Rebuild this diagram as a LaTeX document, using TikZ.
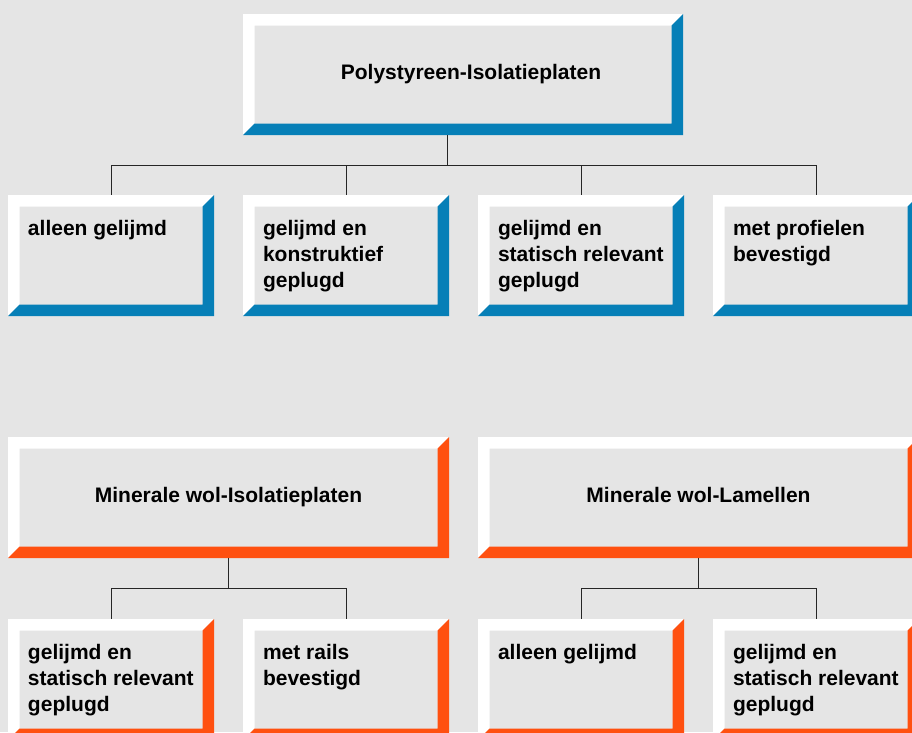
\documentclass[tikz,border=0pt]{standalone}
\usepackage{fontspec}
\setmainfont{Liberation Sans}
\usetikzlibrary{calc}

\definecolor{panelgray}{RGB}{229,229,229}
\definecolor{polyblue}{RGB}{6,127,183}
\definecolor{woolred}{RGB}{255,80,16}

% white top/left edge, coloured bottom/right edge
\newcommand{\bevelframe}[1]{%
  \fill[white] (path picture bounding box.south west) -- (path picture bounding box.north west)
    -- (path picture bounding box.north east)
    -- ([shift={(-11.5pt,-11.5pt)}]path picture bounding box.north east)
    -- ([shift={(11.5pt,-11.5pt)}]path picture bounding box.north west)
    -- ([shift={(11.5pt,11.5pt)}]path picture bounding box.south west) -- cycle;
  \fill[#1] (path picture bounding box.south west) -- (path picture bounding box.south east)
    -- (path picture bounding box.north east)
    -- ([shift={(-11.5pt,-11.5pt)}]path picture bounding box.north east)
    -- ([shift={(-11.5pt,11.5pt)}]path picture bounding box.south east)
    -- ([shift={(11.5pt,11.5pt)}]path picture bounding box.south west) -- cycle;}
\newcommand{\platetext}[1]{\parbox[c][121pt][t]{206pt}{\leftskip=20pt\baselineskip=26pt\rule{0pt}{40pt}#1}}

\tikzset{
  plate/.style={rectangle, fill=panelgray, inner sep=0pt, minimum height=121pt,
    path picture={\bevelframe{#1}}, font=\bfseries\fontsize{21}{26}\selectfont},
  headplate/.style={plate=#1, minimum width=441pt, text height=15pt, text depth=4.5pt},
  kidplate/.style={plate=#1, minimum width=206pt},
  link/.style={draw=black!85, line width=0.8pt}
}

\begin{document}
\begin{tikzpicture}[x=1pt,y=-1pt]
  \fill[panelgray] (0,0) rectangle (912,732);
  \useasboundingbox (0,0) rectangle (912,732);
  \clip (0,0) rectangle (912,732);

  % polystyrene
  \node[headplate=polyblue, minimum width=440pt] (poly) at (463,74.5) {\hspace*{16pt}Polystyreen-Isolatieplaten};
  \node[kidplate=polyblue] (p1) at (111,255.5) {\platetext{alleen gelijmd}};
  \node[kidplate=polyblue] (p2) at (346,255.5) {\platetext{gelijmd en\\konstruktief\\geplugd}};
  \node[kidplate=polyblue] (p3) at (581,255.5) {\platetext{gelijmd en\\statisch relevant\\geplugd}};
  \node[kidplate=polyblue] (p4) at (816,255.5) {\platetext{met profielen\\bevestigd}};

  \coordinate (polyfork) at ([shift={(-16pt,-30pt)}]poly.south);
  \draw[link] (poly.south -| polyfork) -- (polyfork);
  \draw[link] (p1.north) |- (polyfork) -| (p4.north);
  \foreach \k in {p2,p3}
    \draw[link] (\k.north) -- (\k.north |- polyfork);

  % mineral wool
  \node[headplate=woolred] (wool) at (228.5,497.5) {Minerale wol-Isolatieplaten};
  \node[headplate=woolred] (lamel) at (698.5,497.5) {Minerale wol-Lamellen};
  \node[kidplate=woolred] (w1) at (111,679.5) {\platetext{gelijmd en\\statisch relevant\\geplugd}};
  \node[kidplate=woolred] (w2) at (346,679.5) {\platetext{met rails\\bevestigd}};
  \node[kidplate=woolred] (l1) at (581,679.5) {\platetext{alleen gelijmd}};
  \node[kidplate=woolred] (l2) at (816,679.5) {\platetext{gelijmd en\\statisch relevant\\geplugd}};

  \coordinate (woolfork) at ([yshift=-30pt]wool.south);
  \coordinate (lamelfork) at ([yshift=-30pt]lamel.south);
  \draw[link] (wool.south) -- (woolfork);
  \draw[link] (w1.north) |- (woolfork) -| (w2.north);
  \draw[link] (lamel.south) -- (lamelfork);
  \draw[link] (l1.north) |- (lamelfork) -| (l2.north);
\end{tikzpicture}
\end{document}
